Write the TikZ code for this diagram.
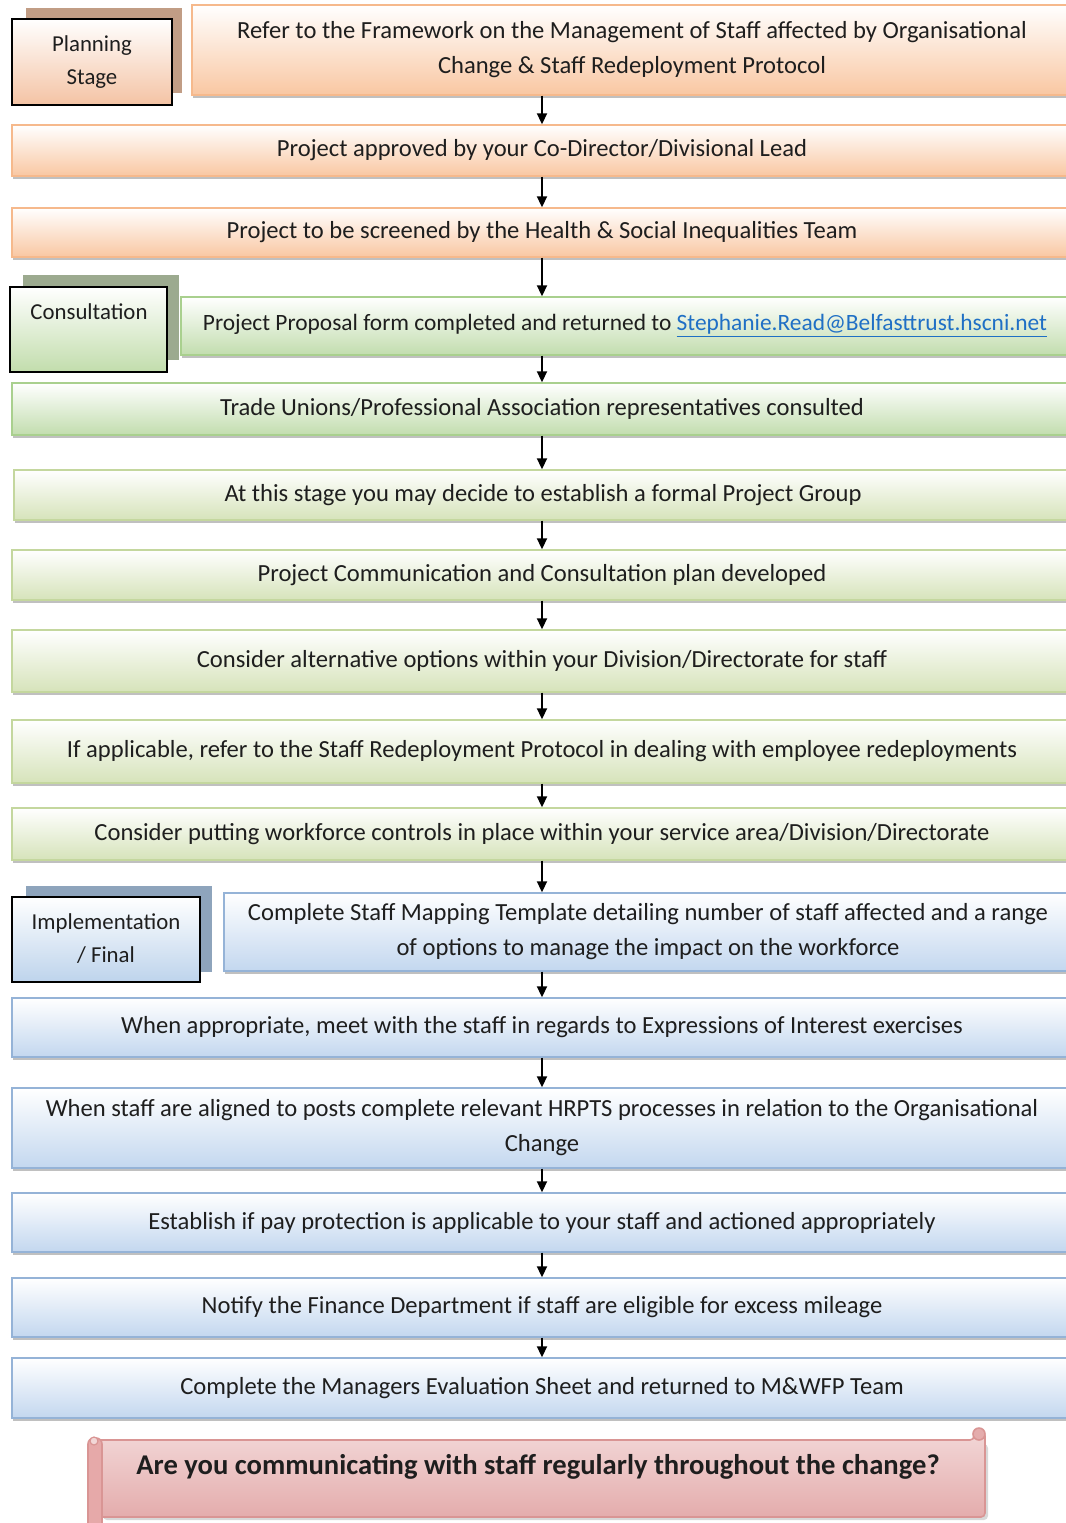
\documentclass[tikz,border=0pt]{standalone}
\usepackage{fontspec}
\setmainfont{Carlito}
\usetikzlibrary{arrows.meta,shadows}

\definecolor{txt}{HTML}{1E1E1E}
\definecolor{ofill}{HTML}{F9C7A2}
\definecolor{oborder}{HTML}{F6B98C}
\definecolor{gfill}{HTML}{C2DDAE}
\definecolor{gborder}{HTML}{A9D08E}
\definecolor{lgfill}{HTML}{D6E3BA}
\definecolor{lgborder}{HTML}{C4D79E}
\definecolor{bfill}{HTML}{C3D7EF}
\definecolor{bborder}{HTML}{95B3D7}
\definecolor{pshadow}{HTML}{C19D85}
\definecolor{cshadow}{HTML}{9CAA8F}
\definecolor{ishadow}{HTML}{8EA4BC}
\definecolor{plabel}{HTML}{F4C3A4}
\definecolor{clabel}{HTML}{C2DDAC}
\definecolor{ilabel}{HTML}{BED4EC}
\definecolor{linkblue}{HTML}{1F6FC5}
\definecolor{scrolltop}{HTML}{F2D7D7}
\definecolor{scrollbot}{HTML}{E4ACAC}
\definecolor{scrollroll}{HTML}{E6A9A9}
\definecolor{scrollborder}{HTML}{D99594}

\begin{document}
\begin{tikzpicture}[x=0.5pt,y=-0.5pt,
  boxtext/.style={font=\fontsize{12.3}{17.5}\selectfont, text=txt},
  labeltext/.style={font=\fontsize{11.4}{16.5}\selectfont, text=txt},
  stepbox/.style={rectangle, line width=0.7pt, inner sep=0pt, align=center,
    boxtext, drop shadow={shadow xshift=0.6pt, shadow yshift=-1.3pt,
    fill=black!45, opacity=0.55}},
  obox/.style={stepbox, draw=oborder, top color=white, bottom color=ofill},
  gbox/.style={stepbox, draw=gborder, top color=white, bottom color=gfill},
  lgbox/.style={stepbox, draw=lgborder, top color=white, bottom color=lgfill},
  bbox/.style={stepbox, draw=bborder, top color=white, bottom color=bfill},
  stagebox/.style={rectangle, draw=black, line width=1pt, inner sep=0pt,
    align=center, labeltext},
  stageshadow/.style={rectangle, inner sep=0pt},
  arr/.style={-{Triangle[length=5.5pt,width=5pt]}, line width=0.9pt, black}
]
\useasboundingbox (0,0) rectangle (1066,1523);
\clip (0,0) rectangle (1066,1523);

% x position of the connector column
\coordinate (ax) at (542,0);

% ---------------- Planning stage ----------------
\node[stageshadow, fill=pshadow, minimum width=78pt, minimum height=42.5pt] (pshad) at (104,50.5) {};
\node[stagebox, top color=white, bottom color=plabel, minimum width=80pt, minimum height=43pt] (plan) at (92,62)
  {Planning\\Stage};

\node[obox, minimum width=440pt, minimum height=45pt] (A) at (632,50)
  {Refer to the Framework on the Management of Staff affected by Organisational\\Change \& Staff Redeployment Protocol};
\node[obox, minimum width=530pt, minimum height=25.5pt] (B) at (542,150.5)
  {Project approved by your Co-Director/Divisional Lead};
\node[obox, minimum width=530pt, minimum height=24.5pt] (C) at (542,232.5)
  {Project to be screened by the Health \& Social Inequalities Team};

% ---------------- Consultation ----------------
\node[stageshadow, fill=cshadow, minimum width=78pt, minimum height=42.5pt] (cshad) at (101,317.5) {};
\node[stagebox, top color=white, bottom color=clabel, minimum width=78.5pt, minimum height=42.5pt] (cons) at (88.5,329.5) {};
\node[labeltext] (consT) at (89,312) {Consultation};

\node[gbox, minimum width=444pt, minimum height=29pt] (D) at (625,326)
  {\fontsize{11.7}{14}\selectfont Project Proposal form completed and returned to \textcolor{linkblue}{\underline{Stephanie.Read@Belfasttrust.hscni.net}}};
\node[gbox, minimum width=530pt, minimum height=26pt] (E) at (542,409)
  {Trade Unions/Professional Association representatives consulted};
\node[lgbox, minimum width=529pt, minimum height=25pt] (F) at (543,495)
  {At this stage you may decide to establish a formal Project Group};
\node[lgbox, minimum width=530pt, minimum height=25pt] (G) at (542,575)
  {Project Communication and Consultation plan developed};
\node[lgbox, minimum width=530pt, minimum height=31pt] (H) at (542,661)
  {Consider alternative options within your Division/Directorate for staff};
\node[lgbox, minimum width=530pt, minimum height=31.5pt] (I) at (542,751.5)
  {If applicable, refer to the Staff Redeployment Protocol in dealing with employee redeployments};
\node[lgbox, minimum width=530pt, minimum height=26pt] (J) at (542,834)
  {Consider putting workforce controls in place within your service area/Division/Directorate};

% ---------------- Implementation / Final ----------------
\node[stageshadow, fill=ishadow, minimum width=93pt, minimum height=43pt] (ishad) at (119,929) {};
\node[stagebox, top color=white, bottom color=ilabel, minimum width=94pt, minimum height=42.5pt] (impl) at (106,939)
  {\fontsize{11.4}{16}\selectfont Implementation\\/ Final};

\node[bbox, minimum width=424pt, minimum height=39pt] (K) at (648,932)
  {\fontsize{12.3}{15.5}\selectfont Complete Staff Mapping Template detailing number of staff affected and a range\\of options to manage the impact on the workforce};
\node[bbox, minimum width=530pt, minimum height=29.5pt] (L) at (542,1027.5)
  {When appropriate, meet with the staff in regards to Expressions of Interest exercises};
\node[bbox, minimum width=530pt, minimum height=40pt] (M) at (542,1128)
  {When staff are aligned to posts complete relevant HRPTS processes in relation to the Organisational\\Change};
\node[bbox, minimum width=530pt, minimum height=29.5pt] (N) at (542,1222.5)
  {Establish if pay protection is applicable to your staff and actioned appropriately};
\node[bbox, minimum width=530pt, minimum height=29.5pt] (O) at (542,1307.5)
  {Notify the Finance Department if staff are eligible for excess mileage};
\node[bbox, minimum width=530pt, minimum height=30pt] (P) at (542,1388)
  {Complete the Managers Evaluation Sheet and returned to M\&WFP Team};

% ---------------- connectors ----------------
\draw[arr] (A.south -| ax) -- (B.north -| ax);
\draw[arr] (B.south -| ax) -- (C.north -| ax);
\draw[arr] (C.south -| ax) -- (D.north -| ax);
\draw[arr] (D.south -| ax) -- (E.north -| ax);
\draw[arr] (E.south -| ax) -- (F.north -| ax);
\draw[arr] (F.south -| ax) -- (G.north -| ax);
\draw[arr] (G.south -| ax) -- (H.north -| ax);
\draw[arr] (H.south -| ax) -- (I.north -| ax);
\draw[arr] (I.south -| ax) -- (J.north -| ax);
\draw[arr] (J.south -| ax) -- (K.north -| ax);
\draw[arr] (K.south -| ax) -- (L.north -| ax);
\draw[arr] (L.south -| ax) -- (M.north -| ax);
\draw[arr] (M.south -| ax) -- (N.north -| ax);
\draw[arr] (N.south -| ax) -- (O.north -| ax);
\draw[arr] (O.south -| ax) -- (P.north -| ax);

% ---------------- closing horizontal scroll ----------------
\fill[black!30, opacity=0.5, rounded corners=2pt] (103,1444) rectangle (988,1520);
\path[draw=scrollborder, line width=0.8pt, top color=scrolltop, bottom color=scrollbot, rounded corners=2pt]
  (96,1440) -- (974,1440) -- (974,1432) -- (985,1432) -- (985,1517) -- (96,1517) -- cycle;
\path[draw=scrollborder, line width=0.8pt, fill=scrollbot] (979,1434) circle[radius=3pt];
\path[draw=scrollborder, line width=0.8pt, fill=scrollroll, rounded corners=3pt]
  (88,1530) -- (88,1438) -- (102,1438) -- (102,1530);
\path[draw=scrollborder, line width=0.6pt, fill=scrolltop] (94,1441) circle[radius=2pt];
\node[font=\bfseries\fontsize{14.3}{17}\selectfont, text=txt] (Q) at (538,1467)
  {Are you communicating with staff regularly throughout the change?};

\end{tikzpicture}
\end{document}
